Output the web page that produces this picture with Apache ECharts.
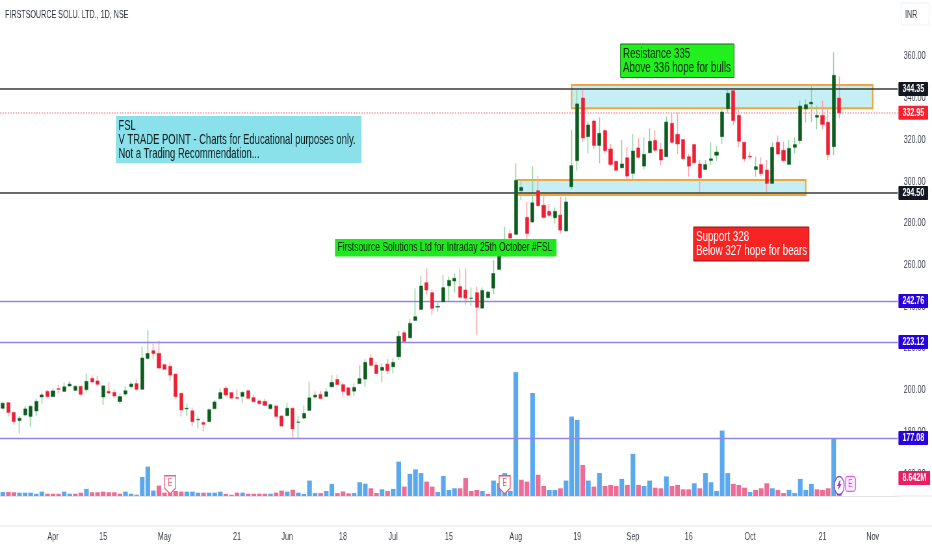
<!DOCTYPE html>
<html><head><meta charset="utf-8">
<style>html,body{margin:0;padding:0;background:#fff;overflow:hidden;width:932px;height:550px}
#c{width:1434px;height:550px;transform:scaleX(0.64993);transform-origin:0 0}</style>
<script src="https://cdn.jsdelivr.net/npm/echarts@6/dist/echarts.min.js"></script>
</head><body><div id="c"></div>
<script>
// open, close, low, high
const candles = [
[191.3,193.7,190.5,194.5],[194.0,189.3,187.3,194.0],[189.3,184.9,183.3,189.3],[185.4,186.5,179.3,187.6],[188.1,191.0,187.3,192.4],[187.4,192.2,182.5,192.9],[190.0,194.6,187.6,195.9],[196.7,197.7,193.3,198.8],[199.4,196.9,196.4,200.1],[196.9,199.6,196.9,200.9],
[200.7,200.4,198.5,202.5],[199.4,201.6,199.3,203.7],[202.0,202.9,201.7,204.4],[199.9,201.8,199.6,202.5],[201.8,198.0,196.9,202.1],[200.2,204.2,198.8,208.0],[205.6,203.9,203.7,207.2],[204.4,202.8,201.7,206.8],[196.7,202.0,192.9,202.5],[199.4,198.6,198.1,203.7],
[198.9,197.2,196.1,200.4],[194.5,196.9,193.3,198.5],[198.1,199.7,196.9,202.0],[201.6,202.9,200.9,204.0],[203.1,200.4,199.7,205.2],[200.4,215.4,200.1,220.8],[215.2,217.6,214.8,228.8],[218.9,217.5,214.8,222.1],[217.6,210.6,210.0,223.7],[212.2,210.0,209.6,212.8],
[211.4,207.2,204.4,213.3],[207.7,196.9,195.7,207.7],[198.5,190.5,187.3,198.5],[191.0,191.3,187.6,193.7],[190.1,184.9,182.8,191.7],[185.8,186.0,181.7,187.3],[184.4,183.6,180.1,185.4],[184.9,190.6,184.9,191.3],[191.1,194.3,190.8,195.3],[195.9,198.8,195.6,200.9],
[200.9,197.7,196.9,202.0],[198.8,196.2,195.9,199.1],[196.4,196.1,195.7,200.5],[197.0,198.9,194.0,199.7],[199.7,196.1,195.7,200.4],[196.4,194.5,194.1,197.8],[194.8,193.5,193.2,195.7],[194.6,192.7,192.5,195.9],[191.1,193.0,190.8,193.7],[192.4,187.4,186.9,192.9],
[187.6,182.8,182.5,188.1],[187.8,191.3,187.3,194.0],[191.3,181.4,176.4,191.7],[184.6,184.7,176.9,187.6],[186.6,188.8,186.0,192.5],[190.3,196.3,190.0,204.0],[196.7,197.6,196.0,199.5],[197.9,196.0,195.9,199.7],[197.0,199.2,196.8,200.8],[201.6,203.7,201.3,207.2],
[205.1,202.7,202.4,207.2],[202.6,199.4,196.8,203.5],[201.1,197.6,197.1,201.3],[199.5,201.3,197.1,203.2],[203.1,205.5,202.9,212.0],[205.3,213.3,201.6,214.9],[215.4,211.9,211.5,217.1],[212.0,208.0,207.7,213.6],[209.5,210.9,203.7,212.8],[212.5,209.3,207.7,214.9],
[211.2,213.3,208.0,215.2],[216.0,225.8,214.4,228.3],[227.5,223.4,223.2,228.8],[225.1,232.0,224.8,234.2],[233.4,235.2,233.3,248.8],[238.7,249.9,238.4,254.7],[251.5,248.0,245.6,258.4],[246.7,239.2,236.0,248.3],[239.8,240.1,237.6,241.9],[242.4,249.1,242.1,255.2],
[250.0,252.6,242.9,254.4],[252.3,253.6,246.7,255.9],[249.6,244.5,244.0,258.0],[248.0,244.1,241.1,258.4],[244.0,244.1,240.3,249.3],[246.7,239.7,226.4,249.6],[239.3,247.8,239.2,249.3],[244.3,247.0,244.0,247.7],[248.9,255.9,245.9,262.4],[257.9,266.3,257.6,270.3],
[266.4,271.9,263.9,278.3],[275.0,272.9,271.1,276.7],[274.7,300.5,274.3,308.7],[295.6,297.2,291.1,300.7],[282.8,275.1,271.9,290.3],[280.6,289.8,280.3,307.1],[295.6,288.4,288.2,302.6],[288.6,282.8,282.3,293.0],[285.7,283.8,283.1,289.2],[282.6,285.7,279.9,287.6],
[283.9,276.7,275.1,292.7],[276.3,290.2,275.9,292.7],[297.5,307.6,296.2,324.7],[310.0,337.2,305.2,344.2],[340.0,320.9,319.1,343.9],[321.5,327.1,313.5,328.7],[329.0,317.3,315.4,329.8],[317.3,323.1,308.7,330.8],[324.4,314.8,313.5,325.0],[315.6,308.2,307.4,318.0],
[309.7,305.4,305.0,310.0],[306.6,308.4,306.3,319.9],[311.4,302.6,301.0,316.4],[303.9,314.6,301.0,322.8],[316.1,311.6,311.1,320.7],[307.4,313.0,305.8,321.2],[313.8,319.3,313.5,325.5],[319.7,315.0,314.3,324.7],[315.4,310.3,307.9,318.6],[311.9,328.5,311.9,331.1],
[327.9,318.8,318.3,332.7],[322.6,318.0,313.2,333.0],[320.1,311.0,310.3,320.2],[311.9,307.4,302.3,313.2],[317.7,309.0,308.7,318.0],[308.4,301.8,294.7,310.3],[305.8,308.1,305.5,310.3],[310.1,310.9,307.9,318.9],[312.6,314.1,310.0,317.0],[321.5,333.3,318.0,335.1],
[334.9,342.3,332.7,344.2],[343.5,329.2,327.1,343.9],[331.7,319.3,316.4,335.9],[318.8,310.9,309.5,318.9],[312.1,311.8,310.6,314.3],[305.8,307.1,302.3,311.9],[308.1,303.8,302.6,311.6],[305.5,299.1,295.1,310.3],[299.1,316.4,299.1,318.6],[318.8,313.2,312.9,322.1],
[315.0,310.0,309.5,319.1],[308.2,315.9,308.2,319.9],[316.4,317.7,313.5,321.2],[319.6,336.2,318.0,338.8],[334.8,336.8,328.2,339.4],[337.2,338.0,328.4,345.8],[330.8,331.7,325.0,336.4],[331.7,327.4,325.0,338.8],[328.4,312.9,310.3,335.1],[316.7,350.9,312.6,361.9],
[340.0,332.95,330.3,350.3]];
// volume in millions
const volumes = [
1.9,1.9,1.8,1.6,1.6,1.6,1.1,2.1,1.1,1.1,1.1,2.1,1.1,1.1,1.6,3.4,1.8,1.8,2.1,1.8,1.8,1.1,2.1,1.1,0.6,9.1,14.1,2.6,5.0,1.6,1.6,2.4,2.1,2.1,2.1,1.6,1.6,1.6,1.6,2.1,1.0,0.6,1.6,1.6,1.1,1.1,1.1,1.1,1.1,1.6,2.6,2.1,3.0,1.6,
1.0,7.4,1.4,1.4,2.4,5.8,1.4,2.2,1.3,1.4,6.6,5.9,3.7,1.4,3.2,2.4,3.4,16.5,4.5,10.6,12.8,11.0,6.9,4.5,1.9,9.6,2.9,3.7,3.7,8.6,2.4,2.9,2.4,1.0,7.4,6.2,11.0,2.4,59.4,7.8,6.9,49.4,10.2,4.8,2.9,2.9,3.7,7.4,38.1,36.5,14.9,7.4,4.5,11.0,
4.8,5.3,4.8,8.2,5.3,20.2,5.3,4.8,7.4,4.0,3.7,9.4,4.8,5.3,3.2,3.2,6.1,3.7,11.0,6.6,2.4,31.4,11.0,5.8,5.3,4.0,1.9,2.9,3.7,6.1,3.7,2.9,1.4,2.9,1.4,8.2,2.9,5.8,3.2,2.9,3.7,27.5,8.642];
// b = blue bar, p = pink bar
const volumeSides = "bppbbbbbpp"+"pbbppbpppp"+"ppbbpbbbpp"+"pppbbbpbbb"+"pppbppppbp"+"pbpb"+
 "bbbpbbpppb"+"bbppbpbbpb"+"bbppbbbbpp"+"ppbpbbbbbp"+"pbppbbpbbb"+"pbpb"+
 "pppbpbpbbp"+"pbppppbpbb"+"bbbpppbppp"+"bppbbbbbpp"+"pbp";
const tickSlots = [9,18,29,42,51,61,70,80,92,103,113,123,134,147,156];
const tickLabels = ["Apr","15","May","21","Jun","18","Jul","15","Aug","19","Sep","16","Oct","21","Nov"];
const slotCount = 161;
const priceLevels = [
 {value:344.35,color:"#3a3a3a",tag:"#131722",width:1.6,type:"solid",text:"344.35"},
 {value:294.50,color:"#3a3a3a",tag:"#131722",width:1.6,type:"solid",text:"294.50"},
 {value:242.76,color:"#9484e8",tag:"#2800e0",width:1.3,type:"solid",text:"242.76"},
 {value:223.12,color:"#9484e8",tag:"#2800e0",width:1.3,type:"solid",text:"223.12"},
 {value:177.08,color:"#9484e8",tag:"#2800e0",width:1.3,type:"solid",text:"177.08"},
 {value:332.95,color:"#f9a3ad",tag:"#f7202f",width:1.6,type:[2,2],text:"332.95"}];
const zones = [
 {from:102,to:156,top:346.3,bottom:335.1},
 {from:92,to:144,top:300.7,bottom:293.5}];

const S = 932/1434, X = v => v/S;
const slots = Array.from({length:slotCount},(_,i)=>String(i));
const FONT = '"Liberation Sans",Arial,sans-serif';
const G="#0b5d1e", R="#f01e32", GW="#8fd39a", RW="#f5a3ae";
const tag=(bg,txt)=>({show:true,position:"end",distance:1,formatter:txt,color:"#fff",backgroundColor:bg,fontFamily:FONT,fontSize:11,fontWeight:"bold",lineHeight:14,padding:[0,6,0,6],borderRadius:1});
const pin = "path://M1 1H15V14L8 20L1 14Z";
const bolt = "path://M6 0L0 11H4L2 20L10 7H6L8 0Z";
const boxText=(x,y,w,h,bg,border,lines,color,size)=>[
 {type:"rect",silent:true,z:50,shape:{x:X(x),y,width:X(w),height:h},style:{fill:bg,stroke:border,lineWidth:border?1:0}},
 {type:"text",silent:true,z:51,x:X(x+2.5),y:y+h/2,style:{text:lines,fill:color,font:`${size}px ${FONT}`,lineHeight:14,verticalAlign:"middle",align:"left"}}
];
const chart = echarts.init(document.getElementById("c"),null,{renderer:"canvas",width:1434,height:550});
chart.setOption({
 animation:false,
 backgroundColor:"#ffffff",
 grid:[
  {left:X(-2.8),right:1434-X(897.8),top:14.63,bottom:34.72},
  {left:X(-2.8),right:1434-X(897.8),top:300,bottom:54}],
 xAxis:[
  {type:"category",gridIndex:0,data:slots,show:false,boundaryGap:true},
  {type:"category",gridIndex:1,data:slots,boundaryGap:true,
   axisLine:{show:true,lineStyle:{color:"#e3e5ea",width:1}},axisTick:{show:false},
   axisLabel:{margin:35,color:"#3c3f4a",fontSize:11,fontFamily:FONT,hideOverlap:false,
     interval:(i)=>tickSlots.includes(+i),
     formatter:(v)=>{const k=tickSlots.indexOf(+v);return k>=0?tickLabels[k]:"";}}}],
 yAxis:[
  {type:"value",gridIndex:0,position:"right",min:140,max:380,interval:20,splitLine:{show:false},axisLine:{show:false},axisTick:{show:false},
   axisLabel:{show:true,showMinLabel:false,showMaxLabel:false,margin:9,color:"#3c3f4a",fontSize:11,fontFamily:FONT,formatter:(v)=>v.toFixed(2)}},
  {type:"value",gridIndex:1,min:0,max:94,show:false,splitLine:{show:false}}],
 series:[
  {type:"bar",name:"Volume",xAxisIndex:1,yAxisIndex:1,barWidth:7.1,z:1,
   data:volumes.map((v,i)=>({value:v,itemStyle:{color:volumeSides[i]==="b"?"#5aa9ef":"#ee6d96"}})),
   markLine:{silent:true,symbol:"none",animation:false,z:6,data:[{yAxis:8.642,lineStyle:{color:"rgba(255,255,255,0)",width:0.1},label:tag("#e91e63","8.642M")}]},
   markPoint:{silent:true,animation:false,data:[
     {coord:["30",5.4],symbol:pin,symbolSize:[17,18],itemStyle:{color:"#fff",borderColor:"#ee5f7f",borderWidth:1.3},label:{show:true,formatter:"E",color:"#ee5f7f",fontSize:10,fontFamily:FONT,position:"inside",offset:[0,-1]}},
     {coord:["90",5.4],symbol:pin,symbolSize:[17,18],itemStyle:{color:"#fff",borderColor:"#ee4f68",borderWidth:1.3},label:{show:true,formatter:"E",color:"#ee4f68",fontSize:10,fontFamily:FONT,position:"inside",offset:[0,-1]}},
     {coord:["152",5.8],symbol:"roundRect",symbolSize:[16,15],itemStyle:{color:"#fae8fb",borderColor:"#d863e6",borderWidth:1.3},label:{show:true,formatter:"E",color:"#c94ddb",fontSize:10,fontFamily:FONT,position:"inside"}},
     {coord:["150",5.0],symbol:"circle",symbolSize:[15,18],itemStyle:{color:"#fff",borderColor:"#8b3fc7",borderWidth:1.3},label:{show:false}},
     {coord:["150",5.0],symbol:bolt,symbolSize:[7,10],itemStyle:{color:"#8b3fc7"},label:{show:false}}]}},
  {type:"candlestick",name:"Wick",xAxisIndex:0,yAxisIndex:0,barWidth:1,z:2,
   data:candles,
   itemStyle:{color:GW,color0:RW,borderColor:GW,borderColor0:RW,borderColorDoji:GW,borderWidth:1.5},
   markArea:{silent:true,animation:false,z:1,itemStyle:{color:"rgba(150,225,235,0.55)",borderColor:"#f0a63c",borderWidth:2},
     data:zones.map(o=>[{xAxis:String(o.from),yAxis:o.top},{xAxis:String(o.to),yAxis:o.bottom}])},
   markLine:{silent:true,symbol:"none",animation:false,z:3,
     data:priceLevels.map(l=>({yAxis:l.value,lineStyle:{color:l.color,width:l.width,type:l.type},label:tag(l.tag,l.text)}))}},
  {type:"candlestick",name:"Body",xAxisIndex:0,yAxisIndex:0,barWidth:5.6,z:4,
   data:candles.map(c=>[c[0],c[1],Math.min(c[0],c[1]),Math.max(c[0],c[1])]),
   itemStyle:{color:G,color0:R,borderColor:G,borderColor0:R,borderColorDoji:G,borderWidth:0.5}}
 ],
 graphic:[
  {type:"text",silent:true,x:X(5),y:15,style:{text:"FIRSTSOURCE SOLU. LTD., 1D, NSE",fill:"#2a2e39",font:`11px ${FONT}`,verticalAlign:"middle"}},
  {type:"rect",silent:true,shape:{x:X(901),y:3,width:X(28),height:22,r:3},style:{fill:"#fff",stroke:"#eceef2",lineWidth:1}},
  {type:"text",silent:true,x:X(905),y:15,style:{text:"INR",fill:"#3c3f4a",font:`11px ${FONT}`,verticalAlign:"middle"}},
  {type:"line",silent:true,shape:{x1:0,y1:526,x2:1434,y2:526},style:{stroke:"#e3e5ea",lineWidth:1}},
  {type:"line",silent:true,shape:{x1:X(895),y1:496,x2:1434,y2:496},style:{stroke:"#e3e5ea",lineWidth:1}},
  ...boxText(116,116,245.5,47,"#8ae1ea",null,"FSL\nV TRADE POINT - Charts for Educational purposes only.\nNot a Trading Recommendation...","#0a1c20",14.5),
  ...boxText(335,239,221.5,17.5,"#1ee81e",null,"Firstsource Solutions Ltd for Intraday 25th October #FSL","#062108",13.2),
  ...boxText(620.5,44,113.5,33.5,"#22f01e","#186b1a","Resistance 335\nAbove 336 hope for bulls","#062108",15),
  ...boxText(693.5,227,115.5,34,"#f72424","#8a1717","Support 328\nBelow 327 hope for bears","#ffffff",15)
 ]
});
</script></body></html>
